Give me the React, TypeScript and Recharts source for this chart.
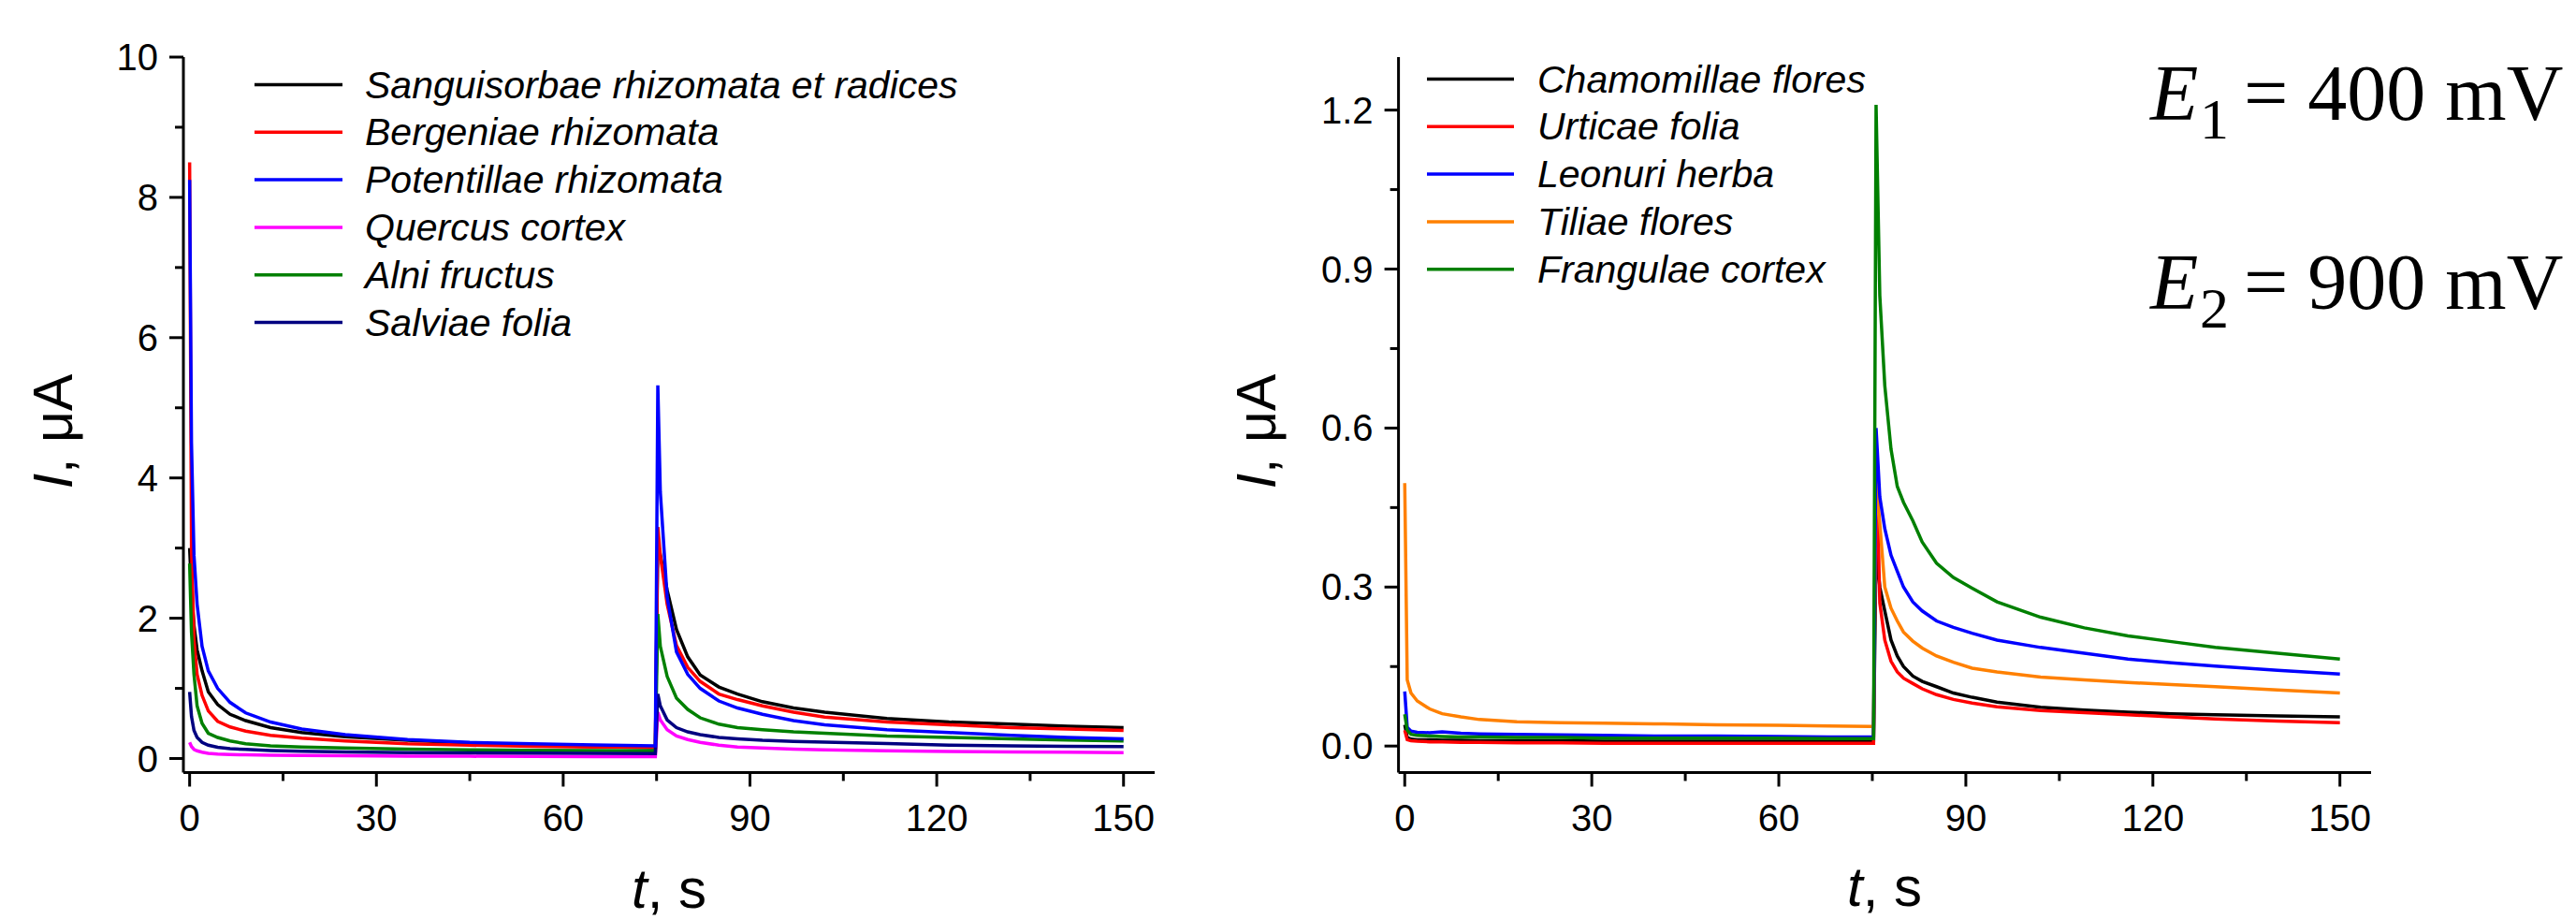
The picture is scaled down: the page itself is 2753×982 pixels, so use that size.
import React from 'react';
import { LineChart, Line, XAxis, YAxis, Legend } from 'recharts';

const SANS = '"Liberation Sans", Arial, Helvetica, sans-serif';
const SERIF = '"Liberation Serif", "Times New Roman", Times, serif';

// ---- left panel (E1 = 400 mV step to E2 = 900 mV at 75 s) ----
const leftTime = [
  0, 0.3, 0.7, 1.2, 2, 3, 4.5, 6.5, 9, 13, 18, 25, 35, 45, 55, 65, 74.8,
  75.2, 75.6, 76.7, 78.2, 80, 82, 85, 88, 92, 97, 102, 112, 122, 132, 141, 150,
];
const sanguisorbae = [
  3.0, 2.4, 1.9, 1.55, 1.25, 0.95, 0.77, 0.63, 0.54, 0.44, 0.37, 0.31, 0.26, 0.22, 0.19, 0.17, 0.155,
  3.1, 2.9, 2.4, 1.84, 1.45, 1.19, 1.02, 0.92, 0.81, 0.72, 0.66, 0.57, 0.52, 0.49, 0.46, 0.44,
];
const bergeniae = [
  8.5, 3.0, 1.7, 1.2, 0.9, 0.68, 0.53, 0.45, 0.39, 0.33, 0.29, 0.25, 0.21, 0.19, 0.175, 0.165, 0.16,
  3.3, 2.9, 2.2, 1.61, 1.3, 1.1, 0.92, 0.84, 0.75, 0.66, 0.59, 0.52, 0.48, 0.44, 0.42, 0.4,
];
const potentillae = [
  8.25, 4.5, 2.9, 2.2, 1.6, 1.25, 1.0, 0.8, 0.65, 0.52, 0.42, 0.34, 0.27, 0.23, 0.21, 0.195, 0.18,
  5.32, 3.8, 2.3, 1.52, 1.2, 1.0, 0.82, 0.72, 0.63, 0.54, 0.48, 0.41, 0.37, 0.33, 0.3, 0.28,
];
const quercus = [
  0.23, 0.17, 0.13, 0.11, 0.09, 0.075, 0.065, 0.058, 0.052, 0.047, 0.043, 0.039, 0.035, 0.032, 0.03, 0.028, 0.027,
  0.66, 0.55, 0.41, 0.32, 0.27, 0.23, 0.19, 0.165, 0.15, 0.135, 0.125, 0.11, 0.1, 0.095, 0.09, 0.085,
];
const alni = [
  2.78, 1.8, 1.2, 0.75, 0.5, 0.36, 0.3, 0.25, 0.21, 0.18, 0.165, 0.15, 0.135, 0.125, 0.118, 0.113, 0.11,
  2.06, 1.6, 1.17, 0.86, 0.7, 0.58, 0.49, 0.44, 0.41, 0.38, 0.36, 0.32, 0.3, 0.28, 0.265, 0.25,
];
const salviae = [
  0.95, 0.6, 0.4, 0.3, 0.23, 0.19, 0.16, 0.14, 0.13, 0.115, 0.105, 0.095, 0.085, 0.08, 0.076, 0.073, 0.07,
  0.92, 0.75, 0.55, 0.44, 0.38, 0.34, 0.3, 0.28, 0.26, 0.245, 0.235, 0.215, 0.19, 0.18, 0.175, 0.17,
];

// ---- right panel ----
const rightTime = [
  0, 0.4, 1, 2, 4, 6, 9, 12, 18, 25, 32, 40, 50, 60, 68, 74.6, 75.2,
  75.6, 76.2, 77, 78, 79, 80, 81.5, 83, 85.3, 88, 91, 95, 102, 109, 116, 123, 130, 140, 150,
];
const chamomillae = [
  0.04, 0.016, 0.013, 0.012, 0.012, 0.011, 0.011, 0.01, 0.01, 0.01, 0.009, 0.009, 0.009, 0.009, 0.009, 0.009, 0.009,
  0.37, 0.3, 0.255, 0.2, 0.17, 0.15, 0.132, 0.122, 0.112, 0.1, 0.092, 0.083, 0.073, 0.068, 0.064, 0.061, 0.059, 0.057, 0.055,
];
const urticae = [
  0.03, 0.012, 0.01, 0.009, 0.008, 0.008, 0.007, 0.007, 0.006, 0.006, 0.005, 0.005, 0.005, 0.005, 0.005, 0.005, 0.005,
  0.58, 0.27, 0.2, 0.16, 0.14, 0.128, 0.118, 0.108, 0.097, 0.088, 0.081, 0.074, 0.067, 0.063, 0.059, 0.055, 0.051, 0.047, 0.044,
];
const leonuri = [
  0.103, 0.035, 0.028, 0.026, 0.025, 0.027, 0.024, 0.023, 0.022, 0.021, 0.02, 0.019, 0.019, 0.018, 0.017, 0.017, 0.017,
  0.6, 0.47, 0.41, 0.36, 0.33, 0.3, 0.272, 0.255, 0.236, 0.224, 0.213, 0.2, 0.186, 0.175, 0.164, 0.157, 0.151, 0.143, 0.136,
];
const tiliae = [
  0.496, 0.125, 0.1, 0.085, 0.07, 0.061, 0.055, 0.05, 0.046, 0.044, 0.043, 0.042, 0.04, 0.039, 0.038, 0.037, 0.037,
  0.5, 0.42, 0.3, 0.26, 0.236, 0.215, 0.198, 0.185, 0.17, 0.158, 0.147, 0.14, 0.13, 0.125, 0.12, 0.116, 0.112, 0.106, 0.1,
];
const frangulae = [
  0.06, 0.03, 0.022, 0.02, 0.019, 0.018, 0.017, 0.017, 0.016, 0.016, 0.015, 0.015, 0.015, 0.015, 0.014, 0.014, 0.014,
  1.21, 0.85, 0.68, 0.56, 0.49, 0.46, 0.425, 0.385, 0.345, 0.318, 0.298, 0.272, 0.243, 0.223, 0.208, 0.197, 0.186, 0.175, 0.164,
];

const xTicks = [0, 15, 30, 45, 60, 75, 90, 105, 120, 135, 150];
const leftYTicks = [0, 1, 2, 3, 4, 5, 6, 7, 8, 9, 10];
const rightYTicks = [0, 0.15, 0.3, 0.45, 0.6, 0.75, 0.9, 1.05, 1.2];

const leftSeries = [
  { key: 'sang', name: 'Sanguisorbae rhizomata et radices', color: '#000000', values: sanguisorbae },
  { key: 'berg', name: 'Bergeniae rhizomata', color: '#ff0000', values: bergeniae },
  { key: 'pot', name: 'Potentillae rhizomata', color: '#0000ff', values: potentillae },
  { key: 'quer', name: 'Quercus cortex', color: '#ff00ff', values: quercus },
  { key: 'alni', name: 'Alni fructus', color: '#008000', values: alni },
  { key: 'salv', name: 'Salviae folia', color: '#000080', values: salviae },
];
const rightSeries = [
  { key: 'cham', name: 'Chamomillae flores', color: '#000000', values: chamomillae },
  { key: 'urt', name: 'Urticae folia', color: '#ff0000', values: urticae },
  { key: 'leon', name: 'Leonuri herba', color: '#0000ff', values: leonuri },
  { key: 'til', name: 'Tiliae flores', color: '#ff8000', values: tiliae },
  { key: 'frang', name: 'Frangulae cortex', color: '#008000', values: frangulae },
];

const leftData = leftTime.map((t, i) => {
  const row: Record<string, number> = { t };
  leftSeries.forEach((s) => (row[s.key] = s.values[i]));
  return row;
});
const rightData = rightTime.map((t, i) => {
  const row: Record<string, number> = { t };
  rightSeries.forEach((s) => (row[s.key] = s.values[i]));
  return row;
});

// draw order (legend order is kept separately)
const leftDrawOrder = ['sang', 'berg', 'quer', 'alni', 'salv', 'pot'];
const rightDrawOrder = ['cham', 'urt', 'til', 'leon', 'frang'];

const renderXTick = (props: any) => {
  const { x, y, payload } = props;
  const v = payload.value as number;
  const major = v % 30 === 0;
  return (
    <g>
      <line x1={x} x2={x} y1={y} y2={y + (major ? 15 : 9)} stroke="#000" strokeWidth={3} />
      {major ? (
        <text x={x} y={y + 62} textAnchor="middle" fontFamily={SANS} fontSize={40} fill="#000">
          {v}
        </text>
      ) : null}
    </g>
  );
};

const makeYTick = (isMajor: (v: number) => boolean, fmt: (v: number) => string) => (props: any) => {
  const { x, y, payload } = props;
  const v = payload.value as number;
  const major = isMajor(v);
  return (
    <g>
      <line x1={x} x2={x - (major ? 15 : 9)} y1={y} y2={y} stroke="#000" strokeWidth={3} />
      {major ? (
        <text x={x - 27} y={y + 14} textAnchor="end" fontFamily={SANS} fontSize={40} fill="#000">
          {fmt(v)}
        </text>
      ) : null}
    </g>
  );
};

const leftYTick = makeYTick((v) => v % 2 === 0, (v) => String(v));
const rightYTick = makeYTick(
  (v) => Math.abs(v / 0.3 - Math.round(v / 0.3)) < 1e-6,
  (v) => v.toFixed(1),
);

function LegendBlock({ items, lineX1, lineX2, textX, row0 }: any) {
  return (
    <svg width={900} height={340} style={{ overflow: 'visible', display: 'block' }}>
      {items.map((s: any, i: number) => {
        const y = row0 + i * 50.8;
        return (
          <g key={s.key}>
            <line x1={lineX1} x2={lineX2} y1={y} y2={y} stroke={s.color} strokeWidth={3.5} />
            <text x={textX} y={y + 14} fontFamily={SANS} fontStyle="italic" fontSize={41} fill="#000">
              {s.name}
            </text>
          </g>
        );
      })}
    </svg>
  );
}

const axisLine = { stroke: '#000', strokeWidth: 3 };

export default function App() {
  return (
    <div style={{ position: 'absolute', left: 0, top: 0, width: 2753, height: 982, background: '#fff', overflow: 'hidden' }}>
      <div style={{ position: 'absolute', left: 0, top: 0 }}>
        <LineChart width={1260} height={982} data={leftData} margin={{ top: 61, right: 26, bottom: 76.5, left: 76 }}>
          <XAxis
            dataKey="t"
            type="number"
            domain={[-1, 155]}
            ticks={xTicks}
            interval={0}
            allowDataOverflow
            height={80}
            axisLine={axisLine}
            tickLine={false}
            tickSize={0}
            tickMargin={0}
            tick={renderXTick}
          />
          <YAxis
            type="number"
            domain={[-0.2, 10]}
            ticks={leftYTicks}
            interval={0}
            allowDataOverflow
            width={120}
            axisLine={axisLine}
            tickLine={false}
            tickSize={0}
            tickMargin={0}
            tick={leftYTick}
          />
          <Legend
            layout="vertical"
            align="center"
            verticalAlign="middle"
            wrapperStyle={{ left: 260, top: 60, width: 900, height: 340 }}
            content={() => (
              <LegendBlock items={leftSeries} lineX1={12} lineX2={106} textX={130} row0={30.5} />
            )}
          />
          {leftDrawOrder.map((k) => {
            const s = leftSeries.find((d) => d.key === k)!;
            return (
              <Line
                key={k}
                type="linear"
                dataKey={k}
                name={s.name}
                stroke={s.color}
                strokeWidth={3.5}
                dot={false}
                activeDot={false}
                isAnimationActive={false}
              />
            );
          })}
        </LineChart>
      </div>

      <div style={{ position: 'absolute', left: 1300, top: 0 }}>
        <LineChart width={1300} height={982} data={rightData} margin={{ top: 61, right: 66, bottom: 76.5, left: 74.6 }}>
          <XAxis
            dataKey="t"
            type="number"
            domain={[-1, 155]}
            ticks={xTicks}
            interval={0}
            allowDataOverflow
            height={80}
            axisLine={axisLine}
            tickLine={false}
            tickSize={0}
            tickMargin={0}
            tick={renderXTick}
          />
          <YAxis
            type="number"
            domain={[-0.05, 1.3]}
            ticks={rightYTicks}
            interval={0}
            allowDataOverflow
            width={120}
            axisLine={axisLine}
            tickLine={false}
            tickSize={0}
            tickMargin={0}
            tick={rightYTick}
          />
          <Legend
            layout="vertical"
            align="center"
            verticalAlign="middle"
            wrapperStyle={{ left: 215, top: 60, width: 900, height: 340 }}
            content={() => (
              <LegendBlock items={rightSeries} lineX1={10} lineX2={103} textX={128} row0={24.5} />
            )}
          />
          {rightDrawOrder.map((k) => {
            const s = rightSeries.find((d) => d.key === k)!;
            return (
              <Line
                key={k}
                type="linear"
                dataKey={k}
                name={s.name}
                stroke={s.color}
                strokeWidth={3.5}
                dot={false}
                activeDot={false}
                isAnimationActive={false}
              />
            );
          })}
        </LineChart>
      </div>

      <svg
        width={2753}
        height={982}
        style={{ position: 'absolute', left: 0, top: 0, pointerEvents: 'none' }}
      >
        {/* axis titles */}
        <text x={77} y={461} transform="rotate(-90 77 461)" textAnchor="middle" fontFamily={SANS} fontSize={59} fill="#000">
          <tspan fontStyle="italic">I</tspan>, μA
        </text>
        <text x={1363} y={461} transform="rotate(-90 1363 461)" textAnchor="middle" fontFamily={SANS} fontSize={59} fill="#000">
          <tspan fontStyle="italic">I</tspan>, μA
        </text>
        <text x={715} y={970} textAnchor="middle" fontFamily={SANS} fontSize={60} fill="#000">
          <tspan fontStyle="italic">t</tspan>, s
        </text>
        <text x={2014} y={968} textAnchor="middle" fontFamily={SANS} fontSize={60} fill="#000">
          <tspan fontStyle="italic">t</tspan>, s
        </text>

        {/* potentials */}
        <text x={2298} y={128} fontFamily={SERIF} fontStyle="italic" fontSize={84} fill="#000">E</text>
        <text x={2351} y={148} fontFamily={SERIF} fontSize={62} fill="#000">1</text>
        <text x={2398} y={128} fontFamily={SERIF} fontSize={84} fill="#000">= 400 mV</text>
        <text x={2298} y={330} fontFamily={SERIF} fontStyle="italic" fontSize={84} fill="#000">E</text>
        <text x={2351} y={350} fontFamily={SERIF} fontSize={62} fill="#000">2</text>
        <text x={2398} y={330} fontFamily={SERIF} fontSize={84} fill="#000">= 900 mV</text>
      </svg>
    </div>
  );
}
